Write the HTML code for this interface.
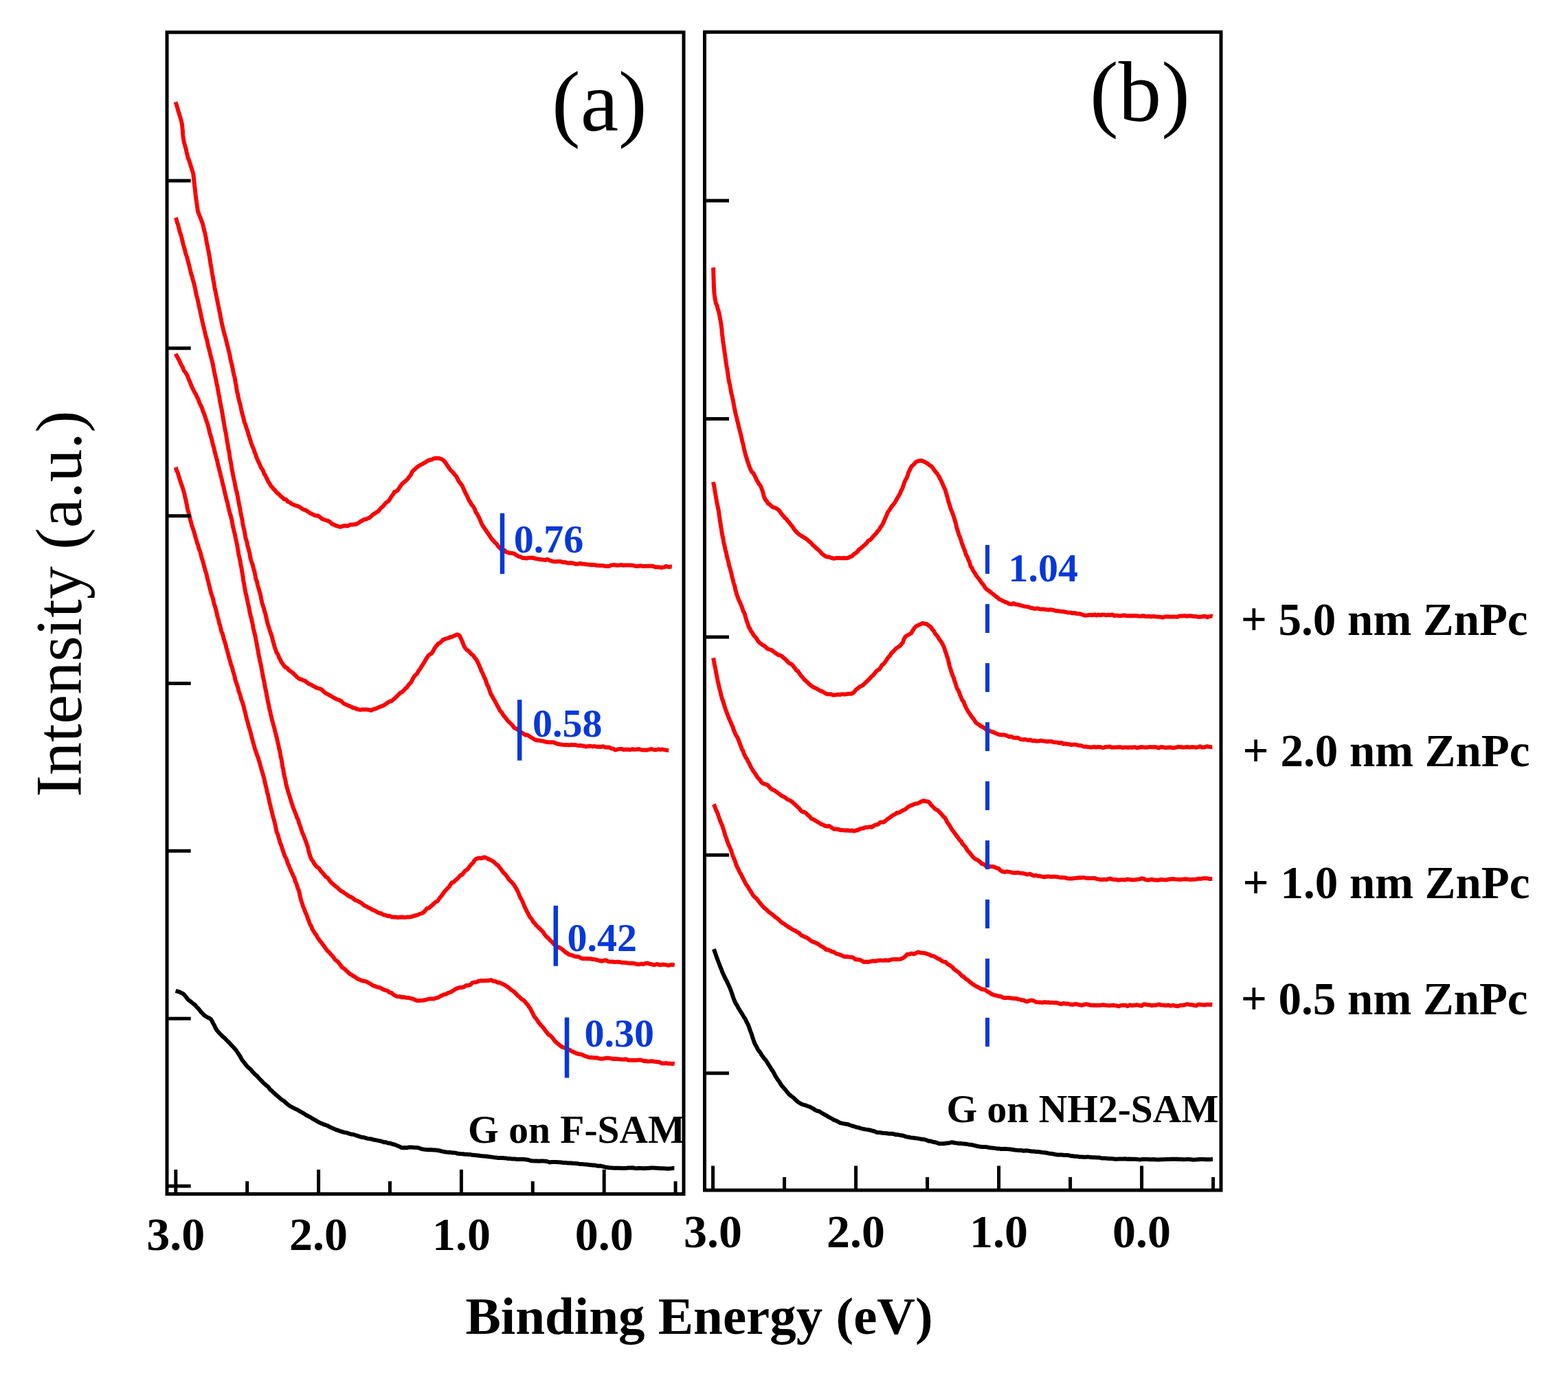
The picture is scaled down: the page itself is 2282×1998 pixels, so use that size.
<!DOCTYPE html>
<html><head><meta charset="utf-8"><title>UPS spectra</title><style>html,body{margin:0;padding:0;background:#fff;overflow:hidden}svg{display:block;filter:blur(0.55px)}</style></head><body>
<svg width="2282" height="1998" viewBox="0 0 2282 1998">
<rect width="2282" height="1998" fill="#fff"/>
<defs><clipPath id="ca"><rect x="246" y="50" width="747" height="1685"/></clipPath><clipPath id="cb"><rect x="1028" y="49" width="746" height="1681"/></clipPath></defs>
<g fill="none" stroke-linejoin="round" stroke-linecap="butt">
<path d="M255.6,148.4 L256.1,150.1 L256.9,152.6 L257.8,155.5 L258.8,158.8 L259.7,162.8 L260.6,164.8 L261.6,168.4 L262.6,171.7 L263.5,174.7 L264.4,178.4 L265.1,182.2 L265.5,186.8 L265.8,189.5 L266.0,192.3 L266.2,195.9 L266.4,198.1 L266.8,200.9 L267.4,204.9 L268.1,207.7 L268.8,210.4 L269.7,213.7 L270.7,216.9 L271.5,221.2 L272.5,225.1 L273.5,229.7 L274.6,232.0 L275.6,234.8 L276.6,237.7 L277.4,240.7 L278.6,244.4 L279.6,247.8 L280.5,250.3 L281.3,253.0 L281.8,257.3 L282.1,259.9 L282.5,264.0 L282.8,266.9 L283.1,270.5 L283.5,273.0 L283.9,276.0 L284.3,280.1 L284.7,284.0 L285.1,287.2 L285.5,290.6 L285.9,292.5 L286.3,295.8 L286.8,299.7 L287.3,302.7 L287.8,306.4 L288.5,309.2 L289.5,311.7 L290.6,314.5 L291.8,317.3 L293.0,320.4 L293.9,322.9 L294.7,324.8 L295.5,327.9 L296.4,331.9 L297.5,336.5 L298.0,337.9 L298.5,339.8 L299.0,342.8 L299.6,345.4 L300.2,349.3 L300.7,352.2 L301.3,355.4 L302.0,358.1 L302.6,361.6 L303.2,364.3 L303.8,367.1 L304.4,371.2 L305.0,374.1 L305.5,377.0 L306.0,380.8 L306.5,384.6 L307.0,387.0 L307.5,389.4 L308.0,392.8 L308.5,396.2 L309.0,399.1 L309.5,401.2 L310.0,404.0 L310.5,407.9 L311.1,410.1 L311.6,413.5 L312.2,417.5 L312.8,420.9 L313.3,422.9 L313.9,425.7 L314.5,428.7 L315.1,431.2 L315.7,434.8 L316.4,437.7 L317.0,441.6 L317.6,444.1 L318.3,447.2 L318.9,450.4 L319.5,453.8 L320.1,455.5 L320.7,459.8 L321.3,462.5 L321.9,465.4 L322.4,468.6 L322.9,470.6 L323.8,474.8 L324.6,478.0 L325.3,481.0 L325.9,483.5 L326.6,486.2 L327.3,488.3 L328.1,490.8 L329.1,495.3 L329.6,497.0 L330.2,499.8 L330.8,502.5 L331.5,504.2 L332.2,507.7 L332.9,510.6 L333.6,513.5 L334.3,516.3 L335.0,520.6 L335.8,524.5 L336.5,527.1 L337.2,529.9 L337.9,533.0 L338.6,536.0 L339.2,539.8 L339.8,542.1 L340.4,545.7 L341.2,547.7 L341.9,550.7 L342.5,555.4 L343.1,558.5 L343.7,560.6 L344.3,565.7 L344.9,568.8 L345.4,571.6 L346.0,572.8 L346.6,576.9 L347.3,580.0 L348.0,583.0 L348.7,585.7 L349.4,587.7 L350.1,590.5 L350.8,594.3 L351.6,598.0 L352.3,601.1 L353.1,603.9 L353.9,606.7 L354.7,609.7 L355.5,613.7 L356.3,615.8 L357.1,617.4 L358.0,620.8 L358.9,623.5 L359.8,626.0 L360.7,628.6 L361.7,632.6 L362.7,635.3 L363.6,638.4 L364.6,641.1 L365.6,645.0 L366.6,647.5 L367.6,650.1 L368.6,652.1 L369.6,654.6 L370.6,658.4 L371.9,661.0 L373.1,665.0 L374.4,668.1 L375.6,670.9 L376.9,673.5 L378.1,676.0 L379.3,679.2 L380.6,681.5 L381.8,683.0 L383.1,685.6 L384.6,689.9 L386.1,691.8 L387.6,694.9 L389.1,697.9 L390.6,701.4 L392.2,703.3 L393.9,706.8 L395.7,708.4 L397.6,711.1 L399.7,712.9 L401.8,715.7 L404.0,717.8 L406.2,719.3 L408.5,722.2 L410.9,723.7 L413.2,726.3 L416.0,726.7 L418.9,730.0 L421.9,731.2 L424.9,733.6 L427.8,734.8 L430.7,735.6 L433.3,736.5 L436.5,738.0 L439.3,740.2 L442.1,741.7 L445.0,742.5 L448.4,744.6 L450.9,746.5 L453.6,747.7 L456.4,749.1 L459.4,750.6 L462.4,750.3 L465.4,752.3 L468.2,754.7 L471.0,756.0 L474.1,757.0 L477.1,757.9 L480.2,759.5 L483.1,762.5 L486.0,763.3 L488.6,764.8 L491.1,765.5 L494.7,766.8 L497.7,766.1 L500.5,765.1 L503.6,765.2 L506.5,765.4 L509.6,763.5 L512.8,763.5 L515.9,763.3 L518.7,762.5 L521.7,761.2 L524.4,759.0 L527.1,757.6 L530.0,755.9 L532.6,755.6 L535.3,754.4 L538.2,753.1 L541.0,750.3 L543.8,748.0 L546.0,746.9 L548.2,745.3 L550.4,744.1 L552.7,741.3 L555.0,738.6 L557.6,736.7 L559.5,734.1 L561.5,731.8 L563.5,730.5 L565.7,728.8 L567.8,725.5 L570.0,722.0 L572.0,719.6 L574.0,715.9 L575.9,715.3 L578.1,714.0 L580.2,711.5 L582.1,708.4 L584.0,705.7 L585.9,703.6 L587.8,701.9 L589.7,700.3 L591.7,698.4 L593.6,696.6 L595.6,693.7 L597.6,691.5 L599.6,687.0 L601.5,684.5 L603.5,683.2 L606.3,680.4 L609.0,678.4 L611.8,676.7 L614.5,675.4 L617.3,673.7 L620.1,672.1 L622.9,670.3 L625.7,669.3 L628.4,668.8 L631.0,667.3 L635.0,666.8 L638.7,666.9 L642.5,668.1 L644.8,669.3 L647.0,671.6 L649.2,674.5 L651.6,678.2 L654.0,681.7 L655.9,684.3 L657.8,686.3 L659.8,688.0 L661.8,691.0 L663.8,692.6 L665.8,696.6 L667.8,700.8 L669.3,702.2 L670.8,704.5 L672.4,706.2 L673.9,709.7 L675.4,712.8 L676.9,716.2 L678.5,719.5 L680.0,722.2 L681.5,725.8 L683.0,728.8 L684.6,731.0 L686.2,734.1 L687.8,736.0 L689.3,738.0 L690.9,740.7 L692.4,745.2 L693.9,747.2 L695.3,749.4 L696.8,752.6 L698.3,755.7 L699.7,759.2 L701.1,762.5 L702.4,764.7 L703.8,766.9 L705.3,769.0 L706.8,771.2 L708.7,773.9 L710.6,776.7 L712.7,779.8 L714.7,783.0 L716.8,785.6 L718.7,787.5 L720.6,789.9 L722.9,791.5 L724.8,794.8 L726.8,796.7 L729.1,799.2 L732.1,800.5 L734.4,800.7 L736.9,803.4 L739.6,804.2 L742.5,804.8 L745.6,805.1 L748.7,805.8 L751.8,808.2 L755.0,809.9 L757.8,810.3 L760.5,812.0 L763.2,812.0 L765.9,812.5 L768.8,811.8 L771.9,811.7 L775.1,811.6 L778.7,812.8 L782.6,813.4 L785.1,813.7 L787.8,814.3 L790.6,814.6 L793.5,815.1 L796.5,813.7 L799.6,815.3 L802.8,816.3 L806.0,817.2 L809.3,817.3 L812.5,817.1 L815.8,816.9 L819.0,818.3 L822.2,818.1 L825.4,819.2 L828.5,819.5 L831.6,819.1 L834.6,819.7 L837.7,820.8 L840.7,820.8 L843.8,819.8 L846.9,820.5 L849.9,820.7 L853.0,821.2 L856.0,821.4 L859.1,822.0 L862.2,821.7 L865.2,822.0 L868.3,822.8 L871.3,823.0 L874.4,823.0 L877.4,823.1 L880.4,823.7 L883.4,824.0 L886.4,823.9 L889.3,822.5 L892.2,822.1 L895.2,822.3 L898.2,822.8 L901.2,822.5 L904.2,822.0 L907.3,822.7 L910.5,822.6 L913.7,822.5 L917.0,822.6 L920.4,822.6 L923.2,823.3 L926.2,824.1 L929.4,823.8 L932.7,823.3 L936.2,824.1 L939.6,823.7 L943.2,823.8 L946.7,823.8 L950.2,823.7 L953.7,825.2 L957.1,825.2 L960.4,825.6 L963.5,825.9 L966.5,825.4 L969.3,823.8 L971.8,824.7 L974.1,825.0 L976.1,824.6 L977.8,824.8" stroke="#f70505" stroke-width="6"/>
<path d="M255.9,316.6 L256.4,318.1 L256.9,320.2 L257.6,322.9 L258.3,324.9 L259.1,326.9 L259.9,330.2 L260.8,333.8 L261.7,337.7 L262.6,339.9 L263.6,342.8 L264.6,347.1 L265.6,350.9 L266.5,355.2 L267.5,358.7 L268.4,361.5 L269.3,364.4 L270.0,368.6 L270.8,370.5 L271.6,372.5 L272.4,374.8 L273.1,378.2 L273.9,381.4 L274.7,384.2 L275.5,387.3 L276.3,390.6 L277.1,394.0 L277.9,397.4 L278.7,400.1 L279.5,401.8 L280.3,405.6 L281.0,407.7 L281.8,410.9 L282.5,413.2 L283.2,416.6 L283.9,419.2 L284.6,422.8 L285.4,427.9 L286.0,429.9 L286.7,432.9 L287.3,434.5 L288.0,437.3 L288.6,440.7 L289.2,443.3 L289.8,446.3 L290.4,449.1 L291.1,451.3 L291.7,454.8 L292.3,457.2 L293.0,461.6 L293.7,463.9 L294.4,467.4 L295.2,470.4 L295.8,473.6 L296.5,475.7 L297.2,479.2 L297.9,481.8 L298.6,485.4 L299.4,488.4 L300.1,491.2 L300.9,493.5 L301.7,497.2 L302.4,500.5 L303.2,504.4 L304.0,506.7 L304.7,510.0 L305.5,513.1 L306.2,516.1 L307.0,519.0 L307.7,521.9 L308.4,524.4 L309.0,526.7 L309.7,529.7 L310.3,533.1 L311.0,537.2 L311.7,540.5 L312.4,543.8 L313.0,546.7 L313.7,549.6 L314.3,552.2 L314.8,555.3 L315.4,558.9 L316.0,560.8 L316.5,563.0 L317.1,567.1 L317.6,569.5 L318.1,572.6 L318.7,575.5 L319.2,577.2 L319.8,581.6 L320.3,584.9 L320.9,587.3 L321.5,590.4 L322.0,593.2 L322.6,595.5 L323.1,598.7 L323.7,602.2 L324.2,605.9 L324.8,609.1 L325.3,611.9 L325.9,615.6 L326.4,617.8 L326.9,621.4 L327.5,624.9 L328.0,627.4 L328.6,629.3 L329.1,632.4 L329.6,636.2 L330.2,639.8 L330.7,643.8 L331.3,645.8 L331.8,649.0 L332.3,652.6 L332.9,655.4 L333.4,657.1 L334.0,661.4 L334.5,666.1 L335.1,669.2 L335.6,671.1 L336.2,674.0 L336.7,677.4 L337.3,682.0 L337.9,684.7 L338.5,687.2 L339.0,690.8 L339.6,693.0 L340.2,696.8 L340.8,698.7 L341.4,701.2 L342.0,704.6 L342.6,708.3 L343.2,711.1 L343.8,713.8 L344.4,715.3 L345.0,718.2 L345.6,721.2 L346.2,724.2 L346.8,727.9 L347.4,730.6 L348.0,734.2 L348.6,737.0 L349.2,739.6 L349.7,742.7 L350.3,745.9 L350.9,749.2 L351.4,751.6 L352.0,754.3 L352.6,756.5 L353.1,760.9 L353.7,764.5 L354.3,766.7 L354.9,769.2 L355.5,771.4 L356.1,774.9 L356.7,778.1 L357.3,782.3 L358.0,784.8 L358.7,786.9 L359.4,788.6 L360.1,793.3 L360.9,796.5 L361.7,798.7 L362.5,802.4 L363.3,804.8 L364.1,810.6 L364.9,813.7 L365.7,816.4 L366.5,818.8 L367.2,820.2 L368.0,823.5 L368.7,825.7 L369.4,829.2 L370.0,830.6 L370.6,833.0 L371.7,838.6 L372.5,842.9 L373.3,844.5 L373.9,846.1 L374.6,849.7 L375.3,853.0 L376.2,855.5 L377.3,859.4 L377.9,861.6 L378.6,863.8 L379.3,866.6 L380.0,870.6 L380.7,873.8 L381.5,877.8 L382.3,880.1 L383.2,882.9 L384.0,885.3 L384.8,888.7 L385.7,891.3 L386.5,893.9 L387.4,898.2 L388.2,902.3 L389.0,905.4 L389.8,908.7 L390.6,911.0 L391.5,913.4 L392.4,916.7 L393.3,919.6 L394.3,922.2 L395.2,924.7 L396.1,927.6 L396.9,931.4 L397.8,934.8 L398.7,937.5 L399.6,941.3 L400.5,943.7 L401.4,946.4 L402.3,949.2 L403.2,950.4 L404.9,953.2 L406.4,957.5 L407.9,959.9 L409.5,963.5 L411.2,965.8 L413.2,968.6 L415.7,971.4 L417.7,971.7 L419.9,974.7 L422.3,976.4 L424.9,978.3 L427.5,980.4 L430.2,983.3 L432.9,985.7 L435.7,988.0 L438.3,988.4 L440.9,990.0 L443.7,990.6 L446.5,992.9 L449.3,995.1 L452.1,996.0 L454.8,997.7 L457.6,999.1 L460.4,1000.9 L463.2,1001.5 L466.0,1002.5 L468.8,1003.9 L471.6,1007.0 L474.4,1009.0 L477.2,1010.2 L479.9,1011.9 L482.7,1013.5 L485.5,1015.2 L488.3,1016.6 L491.1,1018.0 L494.0,1018.9 L496.9,1020.5 L499.9,1023.5 L502.9,1025.1 L505.8,1026.3 L508.7,1027.4 L511.4,1028.7 L513.9,1030.0 L516.2,1030.4 L520.4,1032.1 L523.8,1032.9 L526.8,1032.6 L530.0,1032.5 L533.4,1032.6 L536.8,1032.8 L540.2,1033.8 L543.8,1031.8 L546.3,1031.5 L548.9,1030.4 L551.6,1029.1 L554.3,1028.0 L557.1,1027.2 L559.9,1025.4 L562.4,1023.8 L565.0,1022.0 L567.6,1020.6 L570.2,1019.8 L572.9,1017.6 L575.6,1015.1 L578.2,1012.6 L580.5,1010.4 L582.8,1008.0 L585.2,1007.0 L587.5,1004.8 L589.9,1002.0 L592.2,1000.3 L594.4,996.8 L596.6,994.6 L598.5,992.4 L600.3,988.7 L602.1,985.5 L603.9,983.0 L605.7,981.5 L607.4,979.7 L609.2,976.0 L610.9,974.2 L612.7,971.2 L614.5,968.4 L616.3,965.5 L618.0,962.9 L619.8,959.4 L621.6,956.8 L623.4,954.1 L625.1,952.5 L626.9,951.6 L628.7,950.4 L631.0,946.2 L633.4,941.9 L635.7,939.2 L638.1,936.3 L640.4,935.5 L642.6,933.4 L644.8,930.9 L648.5,929.6 L652.1,928.7 L655.5,927.0 L658.6,926.4 L662.0,924.8 L664.9,923.3 L667.8,924.1 L669.3,925.7 L670.6,928.7 L672.0,931.7 L673.4,935.0 L675.1,939.8 L677.0,943.0 L679.0,945.5 L681.2,946.6 L683.6,949.1 L686.1,952.1 L688.6,953.6 L690.9,957.2 L693.0,959.6 L694.5,962.3 L695.8,964.7 L697.1,967.4 L698.3,970.8 L699.5,973.0 L700.7,976.8 L701.9,978.8 L703.1,981.3 L704.5,985.2 L705.7,987.1 L706.9,990.0 L708.1,993.8 L709.3,997.4 L710.6,999.0 L711.9,1002.7 L713.2,1006.9 L714.5,1010.1 L715.8,1012.2 L717.0,1014.4 L718.3,1016.9 L720.0,1019.7 L721.8,1023.1 L723.6,1026.4 L725.4,1029.5 L727.1,1033.1 L728.8,1035.4 L730.5,1036.9 L732.1,1040.3 L734.5,1043.0 L736.7,1045.9 L738.9,1048.7 L741.1,1051.0 L743.5,1053.0 L745.9,1055.5 L748.3,1059.1 L750.8,1060.2 L753.8,1062.0 L757.3,1064.9 L759.5,1066.3 L761.8,1067.8 L764.1,1069.4 L766.6,1069.3 L769.3,1070.6 L772.2,1072.6 L775.4,1074.5 L778.8,1076.5 L782.6,1077.5 L785.1,1077.6 L787.7,1078.2 L790.5,1078.5 L793.4,1079.3 L796.4,1080.1 L799.5,1080.2 L802.7,1080.1 L805.9,1080.3 L809.2,1081.7 L812.4,1082.8 L815.7,1083.3 L819.0,1083.7 L822.2,1084.0 L825.4,1083.9 L828.5,1084.4 L831.6,1083.7 L834.6,1084.1 L837.7,1084.0 L840.7,1085.0 L843.8,1084.8 L846.9,1085.1 L849.9,1085.7 L853.0,1086.6 L856.0,1085.9 L859.1,1085.5 L862.2,1086.5 L865.2,1085.9 L868.3,1086.7 L871.3,1086.5 L874.4,1086.9 L877.4,1086.1 L880.5,1087.4 L883.5,1087.4 L886.5,1087.4 L889.5,1089.2 L892.5,1089.5 L895.5,1091.4 L898.5,1090.6 L901.5,1089.9 L904.6,1089.9 L907.6,1091.0 L910.8,1090.6 L913.9,1090.8 L917.1,1091.0 L920.4,1090.3 L923.4,1090.7 L926.6,1090.5 L930.0,1090.0 L933.5,1091.1 L937.0,1091.6 L940.7,1091.5 L944.3,1090.9 L947.9,1089.9 L951.4,1091.0 L954.9,1091.2 L958.2,1090.3 L961.3,1090.9 L964.3,1090.4 L967.0,1091.1 L969.4,1091.5 L971.5,1091.7 L973.2,1091.7" stroke="#f70505" stroke-width="6"/>
<path d="M255.6,514.9 L256.5,516.5 L257.8,519.0 L259.3,521.8 L261.0,524.7 L262.7,528.9 L264.5,532.1 L266.1,535.0 L267.6,539.1 L269.1,541.0 L270.3,542.6 L271.5,544.4 L272.8,547.0 L274.1,550.6 L275.8,554.4 L277.7,559.0 L278.7,561.8 L279.8,564.3 L280.9,566.2 L282.1,568.9 L283.4,571.2 L284.7,573.0 L286.0,576.2 L287.4,578.9 L288.8,581.6 L290.1,585.8 L291.5,588.7 L292.8,591.0 L294.1,594.0 L295.4,598.5 L296.6,600.8 L297.7,604.1 L298.6,606.8 L299.5,609.5 L300.4,612.3 L301.2,614.5 L302.1,617.1 L302.9,620.0 L303.7,622.9 L304.5,626.5 L305.3,630.3 L306.1,632.2 L306.9,635.5 L307.6,637.7 L308.4,640.5 L309.1,643.7 L309.9,646.9 L310.6,649.7 L311.3,651.2 L312.1,655.7 L312.8,658.4 L313.6,661.2 L314.4,664.8 L315.1,667.3 L315.9,669.4 L316.6,673.1 L317.3,676.3 L318.0,678.5 L318.8,682.1 L319.5,685.0 L320.2,686.9 L320.9,691.1 L321.6,693.8 L322.3,695.8 L323.1,699.3 L323.8,702.4 L324.6,706.1 L325.4,708.3 L326.1,711.9 L326.8,715.1 L327.5,718.0 L328.2,720.9 L328.9,724.3 L329.7,727.2 L330.4,729.8 L331.2,732.1 L331.9,736.0 L332.7,739.5 L333.4,742.4 L334.2,745.3 L334.9,748.6 L335.7,749.9 L336.4,753.8 L337.1,755.5 L337.8,759.5 L338.5,763.4 L339.2,767.3 L339.8,769.2 L340.4,772.0 L341.1,775.0 L341.8,776.8 L342.5,781.1 L343.2,784.3 L343.8,787.5 L344.5,790.0 L345.1,793.3 L345.7,796.5 L346.2,800.3 L346.8,803.0 L347.4,807.7 L347.9,809.1 L348.4,811.2 L349.0,813.8 L349.5,816.0 L350.0,819.8 L350.5,822.5 L351.1,824.7 L351.7,828.2 L352.2,831.9 L352.7,833.7 L353.1,836.9 L353.6,839.6 L354.0,844.0 L354.5,846.4 L355.0,848.7 L355.5,851.3 L356.1,855.9 L356.8,858.5 L357.5,863.6 L358.0,864.4 L358.6,867.1 L359.2,869.9 L359.8,872.5 L360.4,875.7 L361.1,879.3 L361.8,881.9 L362.4,884.4 L363.2,888.9 L363.9,892.9 L364.6,895.2 L365.3,898.6 L366.0,900.1 L366.7,904.7 L367.4,907.1 L368.1,910.3 L368.7,915.0 L369.4,916.8 L370.0,919.9 L370.6,922.1 L371.3,924.6 L371.9,927.7 L372.5,931.6 L373.1,934.1 L373.7,937.1 L374.3,940.8 L374.8,943.6 L375.4,945.6 L375.9,949.7 L376.5,952.3 L377.0,955.9 L377.6,957.6 L378.1,961.6 L378.7,963.2 L379.3,965.4 L379.9,968.9 L380.6,972.4 L381.1,975.6 L381.7,978.2 L382.3,981.6 L382.8,985.3 L383.4,987.4 L384.0,989.6 L384.6,992.8 L385.2,996.8 L385.8,1000.3 L386.4,1002.9 L387.1,1005.4 L387.7,1008.8 L388.3,1012.7 L388.9,1015.1 L389.5,1019.1 L390.2,1021.9 L390.8,1024.8 L391.4,1027.2 L392.0,1031.0 L392.6,1033.4 L393.2,1035.0 L393.9,1039.2 L394.7,1042.0 L395.4,1045.8 L396.1,1048.6 L396.9,1050.9 L397.6,1053.9 L398.3,1056.4 L399.1,1058.9 L399.8,1062.0 L400.6,1065.4 L401.3,1068.1 L402.0,1070.8 L402.8,1073.3 L403.5,1076.8 L404.2,1079.9 L405.0,1083.5 L405.7,1086.6 L406.3,1090.4 L406.9,1091.4 L407.5,1094.4 L408.0,1097.7 L408.6,1101.1 L409.1,1102.8 L409.7,1105.5 L410.3,1109.0 L410.8,1113.1 L411.4,1116.7 L412.0,1118.5 L412.6,1121.9 L413.1,1125.8 L413.7,1128.6 L414.3,1130.9 L415.0,1133.8 L415.6,1136.3 L416.2,1140.5 L416.9,1143.1 L417.6,1145.7 L418.3,1148.1 L419.2,1151.6 L420.2,1154.6 L421.2,1157.6 L422.2,1161.3 L423.3,1164.6 L424.4,1168.2 L425.5,1171.4 L426.6,1175.1 L427.7,1177.7 L428.8,1180.6 L429.9,1183.5 L431.0,1185.6 L432.0,1189.3 L433.0,1191.3 L434.0,1193.0 L434.9,1196.8 L435.8,1199.5 L437.1,1202.4 L438.2,1206.4 L439.4,1209.9 L440.4,1212.8 L441.4,1214.5 L442.4,1217.5 L443.3,1219.5 L444.2,1221.9 L445.1,1224.4 L446.0,1226.7 L446.9,1229.9 L448.0,1232.7 L448.7,1236.3 L449.3,1239.0 L450.0,1241.2 L450.8,1244.1 L451.9,1247.3 L453.5,1250.9 L455.7,1253.7 L457.2,1256.7 L458.8,1258.6 L460.7,1261.2 L462.7,1262.2 L464.8,1264.1 L467.0,1267.7 L469.3,1270.0 L471.7,1272.8 L474.1,1275.9 L476.5,1277.1 L478.9,1280.1 L481.3,1283.6 L483.6,1285.7 L485.8,1287.3 L487.9,1289.3 L490.7,1291.4 L493.4,1293.9 L496.1,1296.5 L498.8,1297.7 L501.4,1299.7 L504.0,1301.3 L506.7,1303.2 L509.3,1305.0 L511.9,1305.6 L514.5,1308.0 L517.2,1310.0 L519.8,1310.6 L522.4,1312.3 L525.0,1313.4 L527.6,1315.4 L530.2,1317.7 L532.8,1318.7 L535.4,1320.3 L538.1,1321.7 L540.8,1323.2 L543.6,1324.6 L546.5,1325.6 L549.2,1327.6 L552.1,1328.7 L555.0,1329.3 L558.0,1331.2 L561.0,1331.6 L564.1,1333.1 L567.2,1332.8 L570.2,1334.6 L573.2,1334.6 L576.1,1334.5 L579.0,1335.3 L581.7,1334.7 L585.2,1334.5 L588.7,1335.1 L592.1,1334.6 L595.4,1334.6 L598.7,1334.0 L601.9,1333.2 L605.0,1332.2 L608.0,1331.4 L611.0,1329.9 L613.9,1329.1 L616.6,1327.7 L619.3,1324.3 L621.8,1321.7 L624.4,1321.4 L626.9,1318.9 L629.4,1316.9 L631.9,1314.5 L634.5,1312.3 L636.6,1311.5 L638.8,1308.1 L640.9,1305.6 L643.0,1303.1 L645.1,1299.9 L647.3,1297.1 L649.4,1294.8 L651.5,1292.6 L653.6,1290.5 L655.8,1286.9 L657.9,1284.2 L660.3,1283.6 L662.8,1280.9 L665.3,1279.0 L667.9,1276.2 L670.4,1273.5 L672.8,1272.8 L675.2,1269.3 L677.5,1266.9 L679.5,1265.7 L681.4,1263.8 L684.5,1259.4 L686.9,1256.9 L689.0,1254.9 L690.9,1251.5 L693.1,1249.8 L696.8,1248.6 L700.5,1248.9 L704.8,1247.4 L707.4,1248.3 L710.3,1249.9 L713.4,1251.1 L716.5,1252.8 L719.6,1255.0 L722.4,1257.8 L724.6,1259.1 L726.8,1262.0 L728.9,1264.7 L730.9,1267.3 L732.9,1270.2 L734.9,1271.8 L737.0,1274.2 L738.8,1276.9 L740.5,1279.5 L742.3,1281.6 L744.0,1283.0 L745.8,1285.0 L747.6,1287.0 L749.6,1290.3 L751.7,1293.7 L752.9,1296.0 L754.1,1298.5 L755.4,1301.9 L756.8,1305.1 L758.1,1307.6 L759.5,1309.8 L760.9,1313.0 L762.3,1316.5 L763.7,1320.0 L765.2,1322.8 L766.6,1326.0 L768.0,1328.1 L769.4,1331.2 L770.8,1333.9 L772.2,1335.6 L774.3,1338.2 L776.3,1342.0 L778.4,1343.7 L780.5,1346.7 L782.6,1348.7 L784.7,1350.7 L786.8,1352.7 L788.8,1354.6 L790.8,1356.8 L792.7,1360.0 L795.0,1362.9 L797.2,1364.5 L799.4,1366.8 L801.5,1369.3 L803.6,1370.7 L805.8,1373.8 L808.0,1375.2 L810.3,1377.2 L812.7,1378.2 L815.2,1379.5 L817.6,1381.1 L820.2,1383.0 L822.8,1385.7 L825.4,1387.0 L828.1,1389.0 L830.8,1389.7 L833.5,1390.3 L836.0,1391.6 L838.5,1392.2 L841.1,1392.1 L843.9,1393.3 L846.9,1394.9 L850.4,1395.1 L854.3,1395.0 L856.8,1395.2 L859.5,1395.2 L862.4,1396.0 L865.4,1396.1 L868.5,1396.9 L871.7,1397.6 L875.0,1398.7 L878.3,1398.0 L881.7,1397.2 L885.1,1399.2 L888.4,1399.6 L891.7,1399.5 L895.0,1400.1 L898.2,1399.6 L901.4,1399.9 L904.5,1400.7 L907.7,1400.7 L910.9,1401.1 L914.1,1401.5 L917.3,1401.7 L920.5,1401.6 L923.6,1402.2 L926.8,1403.0 L929.9,1403.5 L933.1,1402.5 L936.1,1403.1 L939.2,1401.9 L942.2,1401.6 L945.5,1402.7 L948.9,1403.4 L952.4,1404.3 L956.0,1403.0 L959.6,1404.0 L963.0,1403.7 L966.4,1403.6 L969.7,1404.1 L972.7,1405.0 L975.5,1404.1 L977.9,1403.7 L980.1,1404.1 L981.8,1404.4" stroke="#f70505" stroke-width="6"/>
<path d="M255.6,679.9 L256.2,681.6 L256.9,684.2 L257.8,686.3 L258.8,688.0 L259.8,691.8 L261.0,695.7 L262.1,699.2 L263.3,702.9 L264.5,706.1 L265.6,709.3 L266.6,712.4 L267.6,716.0 L268.4,718.8 L269.1,722.4 L269.8,725.4 L270.4,727.2 L271.0,730.7 L271.7,733.5 L272.3,737.1 L273.0,740.6 L273.6,743.4 L274.3,745.0 L275.1,748.9 L275.9,751.2 L276.8,756.0 L277.7,758.9 L278.4,761.4 L279.2,765.3 L280.0,766.4 L280.8,769.5 L281.7,771.9 L282.6,774.9 L283.5,777.8 L284.4,781.6 L285.4,784.5 L286.3,787.8 L287.3,791.2 L288.2,793.0 L289.2,797.3 L290.1,799.9 L291.0,801.9 L291.9,804.9 L292.8,808.7 L293.6,812.1 L294.4,814.1 L295.2,816.9 L296.2,820.4 L297.1,824.3 L298.0,827.1 L298.8,830.7 L299.7,832.9 L300.5,835.6 L301.3,839.3 L302.0,842.7 L302.8,845.3 L303.6,848.5 L304.3,851.4 L305.1,854.7 L305.9,858.0 L306.7,860.9 L307.5,864.1 L308.3,866.2 L309.0,868.6 L309.8,870.1 L310.5,873.8 L311.2,876.8 L311.9,880.0 L312.7,881.4 L313.4,884.4 L314.2,887.3 L314.9,889.4 L315.7,893.7 L316.6,897.5 L317.4,899.6 L318.3,903.4 L319.3,907.8 L320.3,910.1 L321.0,913.4 L321.7,916.7 L322.5,920.0 L323.3,921.1 L324.1,923.3 L325.0,926.8 L325.9,930.6 L326.7,932.6 L327.6,935.5 L328.5,938.4 L329.4,942.7 L330.4,945.5 L331.3,949.2 L332.2,952.6 L333.1,956.2 L334.0,959.1 L334.9,962.0 L335.7,965.5 L336.6,968.2 L337.4,969.9 L338.2,972.5 L339.0,976.0 L339.7,978.5 L340.4,980.5 L341.5,984.6 L342.6,990.2 L343.6,992.4 L344.5,995.3 L345.4,998.1 L346.2,1000.4 L347.0,1003.8 L347.8,1006.6 L348.6,1009.0 L349.4,1010.6 L350.3,1014.4 L351.1,1017.6 L352.0,1020.3 L353.0,1021.8 L353.7,1025.2 L354.5,1027.5 L355.2,1030.7 L356.0,1033.6 L356.8,1036.3 L357.6,1040.2 L358.3,1043.1 L359.1,1046.8 L359.9,1048.8 L360.7,1051.8 L361.6,1055.7 L362.4,1058.6 L363.2,1060.9 L364.0,1063.4 L364.8,1066.3 L365.6,1069.6 L366.4,1073.1 L367.2,1075.9 L368.0,1079.1 L368.9,1082.4 L369.8,1085.1 L370.7,1088.6 L371.5,1091.4 L372.4,1093.7 L373.3,1096.2 L374.2,1099.0 L375.1,1101.3 L376.0,1103.5 L376.9,1106.9 L377.8,1109.7 L378.7,1113.3 L379.5,1115.8 L380.4,1119.1 L381.3,1122.4 L382.2,1125.2 L383.1,1128.7 L383.8,1131.0 L384.6,1133.8 L385.3,1137.5 L386.0,1140.6 L386.8,1143.5 L387.5,1146.1 L388.3,1149.9 L389.1,1154.2 L389.8,1155.4 L390.6,1159.6 L391.3,1162.8 L392.0,1166.5 L392.8,1169.9 L393.5,1171.9 L394.2,1176.0 L394.9,1178.1 L395.6,1180.8 L396.3,1184.1 L396.9,1186.6 L397.6,1189.3 L398.2,1191.3 L399.1,1194.5 L400.0,1198.2 L400.7,1200.8 L401.4,1204.9 L402.0,1207.6 L402.7,1210.9 L403.3,1212.1 L404.0,1213.5 L404.7,1215.5 L405.6,1219.1 L406.5,1221.9 L407.6,1226.1 L408.8,1229.0 L409.7,1231.1 L410.6,1234.5 L411.6,1237.2 L412.7,1240.6 L413.8,1243.9 L415.0,1246.8 L416.2,1248.8 L417.4,1251.5 L418.7,1256.4 L420.0,1258.8 L421.3,1261.9 L422.5,1264.9 L423.8,1267.8 L425.0,1270.6 L426.2,1273.2 L427.4,1275.9 L428.5,1277.6 L429.5,1282.0 L430.5,1284.3 L431.4,1285.8 L432.2,1288.7 L433.6,1293.2 L434.8,1295.6 L435.6,1298.6 L436.3,1302.6 L437.0,1305.1 L437.5,1307.4 L438.2,1310.2 L438.9,1312.3 L439.8,1314.8 L441.0,1319.0 L442.0,1321.0 L443.0,1323.6 L444.1,1326.8 L445.3,1329.6 L446.5,1331.8 L447.8,1336.4 L449.1,1339.1 L450.4,1343.2 L451.7,1346.0 L453.1,1348.0 L454.5,1352.0 L455.9,1354.3 L457.2,1356.3 L458.6,1358.9 L460.4,1360.7 L462.2,1364.5 L464.1,1366.9 L466.1,1369.7 L468.0,1371.8 L470.0,1374.9 L472.0,1377.4 L473.8,1380.1 L475.7,1382.8 L477.4,1384.3 L479.1,1385.9 L481.5,1388.8 L483.6,1390.8 L485.5,1393.1 L487.4,1396.2 L489.3,1397.8 L491.4,1399.2 L493.8,1402.1 L495.8,1404.7 L497.9,1407.8 L500.0,1409.0 L502.2,1410.6 L504.5,1413.0 L506.8,1415.0 L509.2,1417.2 L511.7,1418.6 L514.3,1420.6 L517.0,1421.8 L519.8,1424.1 L522.8,1425.4 L525.8,1426.8 L528.8,1427.5 L531.9,1427.9 L534.9,1429.5 L537.9,1430.9 L540.7,1432.9 L543.8,1434.6 L546.9,1435.5 L549.9,1436.6 L553.0,1437.2 L555.9,1438.8 L558.7,1440.3 L561.5,1441.2 L564.1,1441.8 L567.2,1444.4 L570.0,1445.0 L572.5,1447.4 L575.2,1448.8 L578.2,1450.3 L581.7,1450.2 L584.5,1451.2 L587.5,1450.9 L590.8,1451.8 L594.2,1451.9 L597.7,1452.8 L601.2,1453.7 L604.7,1455.3 L607.9,1456.3 L611.0,1456.0 L614.7,1455.8 L618.1,1455.2 L621.5,1454.5 L624.7,1453.5 L628.0,1453.5 L631.2,1453.6 L634.5,1452.3 L637.4,1451.8 L640.4,1450.0 L643.3,1448.5 L646.2,1447.3 L649.1,1446.8 L652.0,1445.0 L655.0,1444.2 L657.9,1442.6 L660.8,1440.7 L663.8,1438.7 L666.7,1438.0 L669.6,1436.9 L672.6,1436.9 L675.5,1436.1 L678.5,1433.9 L681.4,1433.9 L684.4,1433.2 L687.4,1430.2 L690.4,1429.4 L693.4,1429.3 L696.3,1427.7 L699.3,1427.1 L702.1,1427.3 L704.8,1427.1 L708.2,1427.0 L711.4,1426.9 L714.4,1426.0 L717.5,1427.7 L720.6,1427.9 L723.9,1429.7 L726.5,1429.6 L729.2,1430.9 L732.0,1432.2 L734.8,1433.5 L737.6,1435.4 L740.4,1437.3 L743.1,1439.7 L745.8,1441.6 L748.2,1443.3 L750.5,1445.5 L752.9,1448.3 L755.2,1450.0 L757.5,1452.3 L759.8,1454.5 L762.1,1455.5 L764.3,1458.0 L766.4,1460.5 L768.3,1462.6 L770.0,1465.5 L771.8,1467.6 L773.5,1471.2 L775.1,1474.0 L776.8,1477.8 L778.5,1480.5 L780.3,1482.3 L782.0,1485.0 L783.9,1487.8 L785.8,1490.0 L787.8,1492.6 L789.9,1494.6 L791.9,1497.1 L794.0,1500.2 L796.1,1502.5 L798.2,1505.7 L800.3,1506.4 L802.4,1508.5 L804.5,1510.8 L807.0,1514.3 L809.4,1516.8 L811.8,1518.7 L814.2,1520.6 L816.7,1522.7 L819.3,1524.0 L822.0,1524.9 L825.0,1526.4 L827.5,1527.1 L830.1,1528.5 L832.7,1530.2 L835.4,1531.1 L838.2,1532.6 L841.1,1533.6 L844.2,1534.1 L847.4,1534.7 L850.7,1536.7 L854.3,1537.7 L857.0,1538.7 L859.8,1538.8 L862.7,1539.0 L865.8,1539.4 L868.9,1539.3 L872.1,1540.4 L875.3,1540.7 L878.6,1540.6 L881.9,1539.7 L885.2,1539.6 L888.5,1540.1 L891.8,1541.0 L895.0,1540.8 L898.2,1540.9 L901.4,1541.4 L904.5,1541.6 L907.7,1541.7 L910.9,1541.3 L914.1,1542.7 L917.3,1542.8 L920.5,1542.7 L923.6,1543.1 L926.8,1542.7 L929.9,1542.5 L933.1,1542.5 L936.1,1543.9 L939.2,1543.7 L942.2,1544.6 L945.5,1544.5 L948.9,1544.1 L952.4,1544.8 L956.0,1545.2 L959.6,1545.6 L963.0,1547.3 L966.4,1547.4 L969.7,1547.0 L972.7,1547.8 L975.5,1547.6 L977.9,1548.1 L980.1,1547.7 L981.8,1548.0" stroke="#f70505" stroke-width="6"/>
<path d="M255.6,1441.8 L257.8,1442.5 L261.0,1443.3 L264.6,1445.2 L266.9,1446.4 L269.3,1449.0 L271.8,1452.2 L274.4,1455.2 L276.8,1456.9 L279.1,1458.8 L281.5,1460.8 L283.7,1462.1 L285.9,1465.0 L288.0,1467.1 L290.4,1469.8 L292.5,1472.6 L294.6,1474.8 L296.9,1477.1 L299.4,1479.0 L301.9,1480.4 L304.5,1481.5 L307.0,1483.3 L308.8,1486.3 L310.4,1489.5 L312.1,1492.5 L313.9,1496.4 L315.9,1499.6 L317.9,1501.9 L320.0,1504.1 L322.3,1506.3 L324.7,1508.8 L327.0,1510.6 L329.3,1513.2 L331.5,1515.3 L333.8,1517.5 L336.0,1520.1 L338.2,1522.3 L340.5,1524.8 L342.7,1527.2 L344.4,1529.5 L346.0,1532.0 L347.6,1534.4 L349.3,1536.9 L350.9,1540.0 L352.6,1542.8 L354.3,1544.9 L356.1,1547.1 L358.2,1549.9 L360.4,1552.6 L362.7,1554.3 L365.0,1556.5 L367.2,1559.1 L369.4,1561.7 L371.6,1563.8 L374.0,1565.6 L376.3,1568.5 L378.6,1570.8 L380.9,1573.1 L383.2,1575.7 L385.6,1577.8 L387.8,1579.8 L390.0,1581.2 L392.2,1584.3 L394.5,1586.6 L396.8,1588.6 L399.0,1590.7 L401.3,1592.8 L403.9,1595.0 L406.5,1597.2 L409.1,1599.6 L411.7,1601.2 L414.3,1603.2 L416.9,1605.5 L420.0,1608.2 L423.1,1610.1 L426.3,1611.8 L429.4,1613.4 L432.5,1614.8 L435.1,1616.4 L437.7,1617.9 L440.4,1619.3 L443.0,1620.9 L445.6,1622.7 L448.2,1624.0 L451.3,1625.6 L454.4,1627.6 L457.6,1629.4 L460.7,1631.2 L463.8,1633.1 L466.9,1634.5 L470.1,1635.8 L473.2,1636.9 L476.4,1638.0 L479.5,1639.7 L482.6,1641.2 L485.7,1642.6 L488.9,1644.0 L492.0,1644.9 L495.1,1646.1 L498.2,1647.0 L501.2,1647.9 L504.2,1648.4 L507.3,1649.4 L510.7,1650.4 L513.5,1650.7 L516.1,1651.5 L518.8,1652.3 L521.9,1653.4 L525.6,1654.7 L530.0,1655.2 L532.5,1656.2 L535.2,1656.9 L538.2,1657.3 L541.5,1657.8 L544.8,1658.8 L548.3,1659.4 L551.8,1660.1 L555.2,1660.8 L558.6,1662.2 L561.7,1662.1 L564.7,1663.5 L567.4,1663.5 L569.8,1664.5 L573.9,1665.5 L577.1,1666.8 L579.6,1667.7 L581.9,1668.7 L584.2,1670.1 L586.9,1670.3 L589.8,1670.0 L592.6,1670.2 L595.4,1669.5 L598.5,1669.5 L602.1,1669.8 L606.4,1670.0 L608.9,1670.3 L611.5,1671.3 L614.4,1672.2 L617.4,1672.6 L620.6,1673.1 L623.8,1673.2 L627.1,1673.1 L630.4,1673.4 L633.6,1673.6 L636.8,1674.0 L640.0,1674.5 L643.0,1675.3 L646.1,1676.1 L649.1,1676.4 L652.0,1676.9 L654.9,1676.8 L657.7,1677.4 L660.6,1677.4 L663.5,1677.9 L666.6,1678.8 L669.9,1679.1 L673.4,1679.2 L677.1,1679.7 L679.6,1679.7 L682.2,1680.1 L684.9,1680.1 L687.6,1680.8 L690.4,1681.0 L693.2,1681.3 L696.1,1681.6 L699.1,1681.9 L702.1,1682.3 L705.2,1682.5 L708.3,1682.7 L711.5,1683.2 L714.8,1683.6 L718.1,1684.1 L721.5,1684.6 L724.9,1685.0 L728.4,1685.0 L731.2,1685.0 L734.0,1685.3 L736.9,1685.5 L739.8,1686.1 L742.8,1686.1 L745.8,1686.6 L748.9,1686.4 L752.0,1687.0 L755.2,1687.1 L758.3,1687.1 L761.5,1687.1 L764.7,1687.3 L768.0,1687.7 L771.2,1688.7 L774.4,1689.2 L777.7,1689.4 L780.9,1689.4 L784.1,1689.7 L787.3,1689.6 L790.5,1689.5 L793.7,1689.8 L796.8,1690.3 L800.0,1691.5 L803.2,1690.9 L806.5,1691.0 L809.8,1691.1 L813.2,1691.3 L816.6,1691.5 L820.0,1691.9 L823.5,1692.0 L826.9,1692.6 L830.3,1692.4 L833.7,1692.8 L837.0,1693.0 L840.3,1693.3 L843.5,1693.9 L846.6,1693.9 L849.6,1694.3 L852.6,1694.4 L855.4,1694.8 L858.0,1695.2 L860.6,1695.3 L863.0,1695.8 L865.2,1695.6 L870.3,1696.7 L874.2,1696.6 L877.2,1697.3 L879.6,1698.0 L881.8,1698.7 L884.2,1698.8 L887.1,1699.2 L890.8,1699.5 L893.3,1699.7 L896.0,1699.8 L898.7,1699.8 L901.6,1699.8 L904.6,1700.1 L907.7,1700.1 L910.8,1699.9 L914.0,1699.5 L917.2,1699.5 L920.5,1699.3 L923.8,1700.0 L927.1,1700.3 L930.3,1699.8 L933.6,1699.9 L936.7,1700.3 L940.1,1700.1 L943.6,1699.9 L947.2,1699.5 L950.9,1699.6 L954.7,1699.8 L958.4,1700.0 L962.0,1700.3 L965.5,1700.3 L968.8,1700.4 L972.0,1700.7 L974.8,1700.4 L977.4,1700.2 L979.6,1699.9 L981.4,1700.0" stroke="#000" stroke-width="6"/>
<path d="M1038.1,389.3 L1038.2,391.0 L1038.2,393.3 L1038.3,396.8 L1038.4,399.9 L1038.5,403.1 L1038.6,406.9 L1038.7,409.6 L1038.8,414.0 L1039.0,418.3 L1039.2,421.4 L1039.5,426.6 L1039.8,428.7 L1040.1,431.2 L1040.6,434.6 L1041.3,438.2 L1042.0,441.8 L1042.8,442.8 L1043.7,445.1 L1044.5,449.2 L1045.4,451.7 L1046.2,454.4 L1046.9,457.5 L1047.6,461.9 L1048.1,464.4 L1048.5,466.4 L1049.0,468.5 L1049.4,471.1 L1049.7,474.4 L1050.1,477.1 L1050.5,479.9 L1050.8,484.5 L1051.2,488.4 L1051.7,491.2 L1052.1,495.8 L1052.6,499.3 L1053.0,501.4 L1053.4,504.6 L1053.8,507.6 L1054.3,510.1 L1054.7,514.3 L1055.2,516.2 L1055.6,520.2 L1056.1,523.1 L1056.6,527.1 L1057.1,530.4 L1057.6,534.1 L1058.1,535.6 L1058.6,539.0 L1059.1,543.1 L1059.6,545.7 L1060.1,550.0 L1060.6,553.1 L1061.2,556.3 L1061.8,558.6 L1062.4,560.1 L1062.9,563.9 L1063.5,567.3 L1064.1,570.9 L1064.7,573.5 L1065.3,575.7 L1065.9,578.7 L1066.5,581.0 L1067.1,584.1 L1067.7,587.6 L1068.3,590.8 L1068.9,594.2 L1069.6,597.0 L1070.3,600.9 L1071.0,603.8 L1071.7,606.1 L1072.4,608.9 L1073.1,612.4 L1073.9,615.2 L1074.6,618.2 L1075.3,621.9 L1076.1,624.2 L1076.9,627.7 L1077.7,630.7 L1078.4,633.2 L1079.2,636.9 L1080.0,641.2 L1080.8,644.1 L1081.7,647.1 L1082.5,651.5 L1083.3,654.9 L1084.2,658.2 L1085.0,661.8 L1085.9,664.5 L1086.7,667.1 L1087.5,670.2 L1088.3,672.6 L1089.0,673.8 L1090.6,679.0 L1092.1,682.4 L1093.5,686.0 L1094.9,687.6 L1096.3,688.4 L1097.8,691.4 L1099.4,694.3 L1101.1,698.2 L1102.9,701.2 L1104.6,704.2 L1106.2,706.1 L1107.8,709.0 L1108.9,712.7 L1109.9,714.7 L1110.8,718.2 L1111.7,722.1 L1112.7,724.5 L1114.0,727.5 L1115.6,728.7 L1117.6,732.5 L1120.0,733.7 L1122.6,736.6 L1125.3,738.3 L1128.0,738.9 L1130.7,740.3 L1133.2,742.2 L1135.6,745.0 L1137.9,748.6 L1140.2,750.9 L1142.4,753.8 L1144.6,755.4 L1146.8,758.5 L1148.9,760.8 L1151.3,763.8 L1153.7,766.8 L1155.9,770.4 L1158.2,773.1 L1160.4,775.4 L1162.5,777.3 L1165.5,779.2 L1168.4,781.2 L1171.3,782.9 L1174.3,784.8 L1176.4,786.8 L1178.6,788.7 L1180.9,790.5 L1183.1,793.5 L1185.5,795.0 L1187.9,797.8 L1190.4,799.6 L1193.1,802.1 L1195.8,805.4 L1198.4,807.5 L1201.1,809.4 L1203.6,810.2 L1207.1,810.7 L1210.3,812.0 L1213.6,812.7 L1217.2,812.1 L1220.5,812.1 L1224.0,812.2 L1227.6,812.1 L1231.2,812.3 L1234.8,811.8 L1237.3,810.1 L1239.9,809.5 L1242.4,806.8 L1245.0,805.0 L1247.5,803.3 L1250.0,799.8 L1252.4,798.2 L1254.8,796.0 L1257.1,794.0 L1259.3,792.2 L1261.6,789.8 L1263.7,786.8 L1265.9,786.0 L1268.0,784.1 L1270.4,781.1 L1272.8,778.4 L1275.1,776.3 L1277.3,773.0 L1279.5,770.8 L1281.7,766.8 L1283.3,764.8 L1284.8,762.3 L1286.4,758.9 L1287.8,755.4 L1289.3,752.3 L1290.7,748.7 L1292.1,745.5 L1293.5,743.4 L1295.6,740.5 L1297.5,737.2 L1299.4,735.0 L1301.3,732.8 L1303.2,729.9 L1304.6,727.2 L1305.9,724.9 L1307.3,722.4 L1308.7,720.4 L1310.1,717.7 L1311.5,714.1 L1313.0,711.5 L1314.2,708.1 L1315.5,704.3 L1316.8,700.7 L1318.2,697.6 L1319.5,695.6 L1320.9,692.2 L1322.2,687.6 L1323.5,685.0 L1324.7,682.3 L1326.8,678.6 L1328.7,676.9 L1330.5,675.2 L1332.4,672.7 L1334.5,671.6 L1338.1,670.4 L1341.9,670.3 L1346.2,672.5 L1348.3,673.7 L1350.5,674.8 L1352.8,677.0 L1355.2,678.2 L1357.5,680.8 L1359.7,684.1 L1361.8,686.9 L1363.5,688.8 L1365.1,691.1 L1366.7,693.6 L1368.2,696.9 L1369.6,699.4 L1371.0,702.7 L1372.3,705.3 L1373.6,708.6 L1374.8,711.0 L1375.8,712.9 L1376.7,716.8 L1377.6,719.6 L1378.5,722.6 L1379.4,726.1 L1380.4,729.9 L1381.4,732.8 L1382.3,735.7 L1383.2,738.8 L1384.2,742.0 L1385.2,744.0 L1386.2,746.6 L1387.2,749.5 L1388.2,752.4 L1389.2,755.6 L1390.2,759.2 L1391.2,762.5 L1392.2,767.2 L1393.1,770.3 L1394.1,773.3 L1395.0,776.2 L1395.9,779.4 L1396.9,780.8 L1397.8,783.8 L1398.8,786.5 L1399.8,790.3 L1400.9,793.0 L1402.0,796.2 L1403.2,799.2 L1404.4,802.0 L1405.6,806.1 L1406.8,809.0 L1408.0,810.6 L1409.2,814.7 L1410.4,816.4 L1411.6,820.2 L1412.7,824.2 L1414.4,826.2 L1415.9,829.8 L1417.4,832.1 L1418.9,834.0 L1420.6,837.4 L1422.4,839.4 L1424.1,841.8 L1425.7,843.9 L1427.5,846.7 L1429.3,849.0 L1431.4,851.3 L1433.6,855.0 L1436.1,857.8 L1438.3,858.9 L1440.7,860.9 L1443.3,863.1 L1446.0,865.0 L1448.8,867.5 L1451.6,869.4 L1454.3,872.0 L1457.0,873.0 L1459.6,874.6 L1462.8,876.0 L1465.9,876.9 L1469.0,878.9 L1472.1,879.4 L1475.1,878.0 L1478.1,879.5 L1481.0,879.8 L1484.1,880.5 L1487.0,881.4 L1489.8,882.2 L1492.7,882.6 L1496.0,883.1 L1500.0,884.3 L1502.4,885.0 L1504.9,885.7 L1507.4,885.7 L1510.1,885.3 L1512.9,886.2 L1515.8,886.5 L1518.9,886.5 L1522.2,887.0 L1525.7,887.4 L1529.4,887.1 L1533.4,887.9 L1535.8,888.8 L1538.3,889.0 L1540.9,889.2 L1543.5,889.8 L1546.2,889.8 L1549.0,890.3 L1551.9,890.9 L1554.8,891.5 L1557.8,891.4 L1560.8,892.4 L1563.9,891.9 L1567.0,893.1 L1570.2,893.0 L1573.5,893.9 L1576.8,895.0 L1580.2,895.8 L1583.6,895.3 L1587.0,894.8 L1590.5,895.2 L1593.2,894.3 L1595.9,895.6 L1598.6,894.5 L1601.4,895.3 L1604.2,894.5 L1607.0,894.5 L1609.8,895.4 L1612.7,894.8 L1615.6,895.1 L1618.6,894.3 L1621.5,896.1 L1624.5,895.5 L1627.6,895.9 L1630.6,896.2 L1633.7,895.6 L1636.9,895.5 L1640.0,896.3 L1643.2,896.3 L1646.5,896.0 L1649.8,896.3 L1653.1,895.9 L1656.4,896.5 L1659.8,896.8 L1663.2,896.0 L1666.7,897.0 L1669.5,896.9 L1672.4,896.8 L1675.4,897.4 L1678.6,896.7 L1681.8,897.3 L1685.1,897.4 L1688.5,897.7 L1692.0,898.6 L1695.5,897.5 L1699.0,897.3 L1702.6,897.6 L1706.2,897.4 L1709.8,897.5 L1713.4,897.8 L1717.0,896.4 L1720.5,896.5 L1724.0,896.1 L1727.5,896.7 L1730.9,896.1 L1734.2,896.5 L1737.5,896.9 L1740.7,897.0 L1743.7,897.7 L1746.7,897.7 L1749.5,897.2 L1752.2,896.7 L1754.7,897.0 L1757.1,898.3 L1759.3,897.3 L1761.3,896.9 L1763.2,896.4 L1764.8,896.7" stroke="#f70505" stroke-width="6"/>
<path d="M1038.1,701.3 L1038.4,703.1 L1038.8,705.2 L1039.2,707.0 L1039.7,710.4 L1040.3,713.5 L1040.8,716.7 L1041.4,719.9 L1042.1,724.2 L1042.7,727.7 L1043.3,731.4 L1043.9,734.0 L1044.5,736.9 L1045.1,739.6 L1045.6,742.6 L1046.1,744.0 L1046.5,749.0 L1047.0,752.0 L1047.5,755.0 L1047.9,758.6 L1048.4,761.1 L1048.9,764.3 L1049.4,767.8 L1049.9,769.6 L1050.4,774.1 L1050.9,776.9 L1051.5,780.1 L1052.0,782.1 L1052.6,784.9 L1053.2,789.4 L1053.9,791.8 L1054.6,794.6 L1055.3,798.1 L1056.0,802.1 L1056.8,803.1 L1057.5,807.7 L1058.2,810.7 L1059.0,814.1 L1059.7,816.1 L1060.5,819.4 L1061.2,823.4 L1062.0,825.7 L1062.7,828.0 L1063.5,831.1 L1064.4,834.3 L1065.2,838.4 L1066.0,841.7 L1066.9,844.6 L1067.7,848.4 L1068.5,850.7 L1069.4,853.1 L1070.2,858.3 L1071.0,860.3 L1071.9,864.1 L1072.7,866.2 L1073.8,869.2 L1074.9,872.5 L1076.0,874.6 L1077.1,876.9 L1078.2,879.7 L1079.4,882.3 L1080.5,885.6 L1081.6,889.4 L1082.7,890.8 L1083.8,893.3 L1084.8,897.3 L1085.9,900.7 L1086.9,904.5 L1088.0,906.8 L1089.1,910.4 L1090.2,913.2 L1091.5,914.9 L1092.8,918.3 L1094.7,920.5 L1096.7,924.2 L1098.8,926.6 L1101.0,929.1 L1103.3,932.9 L1105.6,935.5 L1107.9,937.1 L1110.3,938.9 L1112.8,940.0 L1115.4,942.7 L1117.9,944.5 L1120.5,945.3 L1123.0,945.9 L1125.4,948.0 L1128.6,950.2 L1131.7,952.7 L1134.8,953.4 L1137.7,954.8 L1140.5,957.3 L1143.1,959.4 L1145.4,961.9 L1147.8,964.5 L1150.2,965.8 L1153.0,967.2 L1155.0,970.1 L1157.0,972.5 L1159.2,975.7 L1161.5,976.8 L1163.8,980.5 L1166.1,983.7 L1168.4,986.0 L1170.6,988.9 L1173.1,991.1 L1175.6,993.3 L1178.1,995.8 L1180.7,997.9 L1183.2,999.7 L1185.7,1000.8 L1188.2,1001.9 L1191.1,1003.7 L1194.0,1005.3 L1196.8,1006.2 L1199.7,1008.0 L1202.7,1009.8 L1205.8,1010.2 L1209.0,1010.2 L1212.4,1011.4 L1215.9,1011.2 L1219.3,1010.6 L1222.7,1010.9 L1225.9,1010.1 L1228.9,1010.6 L1231.8,1010.1 L1234.6,1009.8 L1237.5,1009.8 L1240.4,1009.0 L1243.4,1006.8 L1245.8,1003.5 L1248.2,1002.0 L1250.7,999.6 L1253.3,998.5 L1255.8,997.1 L1258.4,994.6 L1261.0,992.1 L1263.5,989.6 L1265.8,987.5 L1268.1,984.7 L1270.4,983.0 L1272.7,980.2 L1275.0,977.1 L1277.3,975.2 L1279.5,974.1 L1281.6,971.3 L1283.6,967.8 L1285.7,966.5 L1287.8,963.8 L1289.7,961.3 L1291.6,958.1 L1293.4,955.8 L1295.2,954.2 L1296.9,950.9 L1298.7,949.2 L1301.6,946.3 L1304.5,943.2 L1307.3,941.5 L1309.8,939.9 L1312.0,937.1 L1314.0,934.9 L1315.3,930.6 L1316.5,928.5 L1318.0,926.2 L1320.6,924.5 L1323.5,923.1 L1326.3,921.3 L1328.1,917.9 L1329.7,915.7 L1331.4,913.0 L1333.5,911.2 L1336.2,910.0 L1339.4,908.4 L1342.6,907.0 L1345.5,907.5 L1348.8,908.2 L1351.7,910.3 L1355.0,912.9 L1356.9,916.1 L1358.9,918.0 L1361.0,922.3 L1363.1,924.2 L1365.1,927.0 L1367.0,930.2 L1368.5,932.4 L1370.0,934.2 L1371.4,936.7 L1372.8,939.4 L1374.1,942.6 L1375.4,946.6 L1376.6,950.0 L1377.5,952.5 L1378.3,955.5 L1379.0,956.5 L1379.7,959.5 L1380.4,962.5 L1381.1,965.3 L1381.9,969.2 L1382.8,972.0 L1383.8,974.8 L1384.7,978.5 L1385.7,980.8 L1386.7,983.7 L1387.8,985.8 L1388.9,989.9 L1390.0,992.8 L1391.2,996.7 L1392.3,1000.5 L1393.5,1002.9 L1394.6,1004.7 L1395.7,1006.7 L1397.0,1011.0 L1398.3,1013.6 L1399.6,1016.9 L1400.9,1019.8 L1402.2,1020.4 L1403.5,1024.3 L1404.9,1027.6 L1406.3,1030.6 L1407.7,1033.1 L1409.6,1036.5 L1411.6,1038.9 L1413.7,1042.5 L1415.8,1044.9 L1417.9,1047.7 L1420.0,1051.2 L1422.1,1053.0 L1424.9,1054.6 L1427.6,1057.0 L1430.3,1057.8 L1433.2,1060.0 L1436.4,1062.7 L1439.1,1063.0 L1441.8,1064.3 L1444.7,1065.0 L1447.8,1066.6 L1451.4,1068.1 L1455.6,1069.3 L1458.0,1069.6 L1460.5,1069.1 L1463.1,1069.8 L1465.9,1070.7 L1468.8,1072.3 L1471.8,1071.7 L1474.9,1073.6 L1478.0,1073.7 L1481.3,1073.4 L1484.6,1075.6 L1488.0,1076.2 L1491.5,1075.9 L1494.2,1076.7 L1496.9,1077.4 L1499.7,1076.6 L1502.6,1078.1 L1505.6,1077.7 L1508.5,1078.6 L1511.6,1078.4 L1514.6,1077.7 L1517.7,1078.2 L1520.8,1078.6 L1524.0,1079.3 L1527.1,1078.7 L1530.2,1078.9 L1533.2,1080.0 L1536.3,1080.3 L1539.3,1080.5 L1542.2,1081.3 L1545.1,1080.8 L1547.9,1082.8 L1550.7,1082.2 L1553.5,1082.8 L1556.2,1082.9 L1559.0,1083.9 L1561.8,1083.6 L1564.6,1083.4 L1567.5,1084.1 L1570.5,1084.8 L1573.5,1084.9 L1576.7,1086.4 L1580.1,1086.5 L1583.5,1087.0 L1587.2,1087.3 L1589.8,1087.4 L1592.5,1086.7 L1595.1,1087.6 L1597.9,1086.9 L1600.6,1086.9 L1603.4,1087.7 L1606.2,1088.0 L1609.1,1086.9 L1612.0,1086.8 L1615.0,1086.5 L1618.0,1087.7 L1621.1,1087.4 L1624.2,1087.6 L1627.4,1087.2 L1630.6,1087.2 L1633.9,1088.0 L1637.3,1087.4 L1640.7,1087.7 L1644.2,1087.6 L1647.8,1087.7 L1651.5,1087.1 L1655.2,1088.4 L1659.0,1087.3 L1661.6,1087.0 L1664.3,1087.4 L1667.2,1087.8 L1670.1,1087.6 L1673.2,1086.9 L1676.4,1087.2 L1679.6,1087.1 L1682.9,1087.2 L1686.3,1088.6 L1689.7,1087.1 L1693.2,1087.5 L1696.7,1088.0 L1700.2,1087.7 L1703.8,1087.6 L1707.3,1088.4 L1710.9,1087.9 L1714.4,1086.8 L1717.9,1087.0 L1721.4,1087.5 L1724.8,1087.3 L1728.2,1087.0 L1731.5,1087.4 L1734.7,1087.1 L1737.9,1087.3 L1740.9,1087.7 L1743.9,1087.1 L1746.7,1086.2 L1749.4,1087.5 L1752.0,1087.6 L1754.5,1086.8 L1756.8,1086.1 L1758.9,1086.7 L1760.9,1087.0 L1762.7,1087.1 L1764.3,1087.0" stroke="#f70505" stroke-width="6"/>
<path d="M1038.1,957.4 L1038.5,959.3 L1038.9,961.6 L1039.4,963.8 L1039.9,967.9 L1040.5,969.5 L1041.2,973.1 L1041.9,977.3 L1042.6,981.0 L1043.3,984.7 L1044.0,987.4 L1044.8,992.2 L1045.5,994.8 L1046.2,998.0 L1046.9,1001.0 L1047.6,1003.8 L1048.5,1007.0 L1049.4,1011.4 L1050.2,1014.2 L1051.1,1017.7 L1052.0,1019.2 L1052.9,1022.7 L1053.8,1025.3 L1054.7,1028.4 L1055.6,1031.2 L1056.6,1034.1 L1057.6,1036.7 L1058.8,1039.8 L1060.0,1042.9 L1061.2,1046.0 L1062.5,1048.9 L1063.7,1051.6 L1065.0,1054.9 L1066.3,1057.3 L1067.6,1061.7 L1068.9,1064.7 L1070.2,1068.1 L1071.4,1070.3 L1072.7,1072.2 L1073.9,1074.6 L1075.1,1077.7 L1076.3,1080.9 L1077.5,1084.2 L1078.8,1087.3 L1080.0,1091.0 L1081.3,1092.4 L1082.7,1097.0 L1084.1,1099.6 L1085.6,1102.7 L1087.1,1104.5 L1088.7,1108.2 L1090.2,1110.4 L1091.8,1114.1 L1093.4,1117.1 L1094.9,1119.8 L1096.4,1122.1 L1097.8,1124.1 L1100.0,1127.3 L1102.1,1130.7 L1104.1,1132.9 L1106.1,1135.1 L1108.2,1138.5 L1110.4,1139.9 L1112.7,1140.9 L1115.0,1141.5 L1117.4,1142.5 L1119.9,1145.4 L1122.6,1148.2 L1125.4,1149.5 L1128.0,1150.8 L1130.8,1152.9 L1133.8,1155.1 L1136.8,1157.5 L1139.8,1159.1 L1142.7,1160.4 L1145.5,1162.9 L1148.1,1164.1 L1150.7,1165.3 L1153.2,1167.2 L1155.7,1169.6 L1158.1,1171.7 L1160.6,1174.1 L1163.1,1176.3 L1165.6,1179.8 L1168.1,1181.4 L1170.5,1181.6 L1173.0,1183.2 L1175.5,1186.0 L1178.1,1187.7 L1180.7,1191.2 L1183.4,1192.3 L1186.2,1193.7 L1189.0,1195.6 L1191.8,1197.1 L1194.7,1199.1 L1197.7,1200.2 L1200.7,1201.8 L1203.8,1202.5 L1207.0,1202.1 L1210.2,1204.3 L1213.5,1206.5 L1216.8,1206.4 L1220.0,1206.8 L1223.3,1208.1 L1226.6,1208.0 L1229.8,1208.4 L1233.1,1208.3 L1236.4,1208.8 L1239.6,1208.4 L1242.8,1209.4 L1245.9,1208.5 L1249.4,1207.5 L1252.8,1205.8 L1256.1,1205.4 L1259.4,1204.1 L1262.7,1203.9 L1266.0,1203.2 L1268.9,1203.7 L1271.9,1201.3 L1274.9,1200.2 L1277.9,1199.6 L1280.8,1196.8 L1283.6,1196.5 L1286.1,1196.4 L1289.1,1194.1 L1291.6,1191.9 L1294.0,1190.5 L1296.7,1188.2 L1300.0,1186.0 L1302.6,1185.0 L1305.5,1182.7 L1308.6,1182.6 L1311.9,1180.4 L1315.2,1178.8 L1318.4,1177.1 L1321.3,1174.3 L1323.9,1172.9 L1327.4,1171.6 L1330.5,1170.2 L1333.2,1169.4 L1335.7,1169.3 L1338.3,1167.7 L1341.5,1166.1 L1344.6,1165.1 L1347.5,1166.2 L1350.3,1166.3 L1352.8,1168.0 L1355.0,1171.3 L1357.3,1173.5 L1359.8,1176.0 L1362.0,1178.0 L1364.4,1178.9 L1366.9,1181.3 L1369.4,1183.9 L1371.8,1186.9 L1373.5,1188.7 L1375.1,1189.8 L1376.7,1192.5 L1378.3,1196.2 L1380.0,1198.5 L1381.8,1201.0 L1383.8,1204.5 L1385.5,1207.2 L1387.2,1209.5 L1389.1,1212.1 L1391.0,1214.8 L1393.0,1217.3 L1394.9,1219.6 L1396.9,1222.9 L1398.7,1223.9 L1400.5,1227.6 L1402.7,1230.0 L1404.7,1232.0 L1406.7,1235.4 L1408.7,1238.6 L1410.7,1240.1 L1412.7,1242.9 L1414.9,1245.8 L1417.5,1248.6 L1420.3,1250.5 L1423.1,1251.8 L1425.9,1253.8 L1428.8,1257.0 L1431.6,1257.4 L1435.0,1260.6 L1438.4,1260.6 L1441.8,1260.9 L1445.2,1261.1 L1448.4,1262.2 L1451.2,1263.4 L1453.6,1264.0 L1456.1,1266.8 L1459.0,1268.3 L1462.8,1269.0 L1465.3,1268.2 L1468.1,1268.6 L1471.0,1269.1 L1474.2,1270.1 L1477.5,1270.2 L1480.9,1269.8 L1484.4,1270.4 L1487.9,1270.8 L1491.5,1271.5 L1494.2,1272.4 L1496.8,1272.2 L1499.4,1271.7 L1502.0,1273.4 L1504.7,1274.4 L1507.5,1273.7 L1510.4,1274.8 L1513.4,1274.8 L1516.6,1275.7 L1520.0,1276.2 L1523.5,1275.5 L1527.4,1275.5 L1530.0,1276.0 L1532.6,1275.6 L1535.4,1275.7 L1538.2,1275.9 L1541.1,1276.6 L1544.1,1277.0 L1547.2,1276.9 L1550.3,1277.2 L1553.4,1278.3 L1556.7,1278.5 L1559.9,1278.6 L1563.3,1278.0 L1566.6,1277.7 L1570.0,1277.3 L1573.4,1277.4 L1576.8,1276.9 L1580.3,1277.7 L1583.7,1278.0 L1587.2,1278.1 L1590.1,1278.1 L1592.9,1277.8 L1595.7,1278.9 L1598.6,1279.4 L1601.4,1280.1 L1604.2,1279.9 L1607.1,1279.6 L1610.0,1280.1 L1612.9,1279.1 L1615.8,1278.5 L1618.8,1279.6 L1621.8,1280.0 L1624.8,1280.0 L1627.9,1280.8 L1631.1,1280.3 L1634.3,1280.3 L1637.6,1280.4 L1640.9,1279.4 L1644.4,1280.0 L1647.9,1280.4 L1651.5,1280.2 L1655.2,1279.7 L1659.0,1279.3 L1661.6,1278.3 L1664.3,1278.7 L1667.2,1280.1 L1670.1,1280.8 L1673.2,1280.3 L1676.4,1279.6 L1679.6,1280.5 L1682.9,1280.8 L1686.3,1280.7 L1689.7,1279.8 L1693.2,1280.2 L1696.7,1280.5 L1700.2,1279.8 L1703.8,1279.2 L1707.3,1279.1 L1710.9,1279.5 L1714.4,1279.7 L1717.9,1279.9 L1721.4,1279.6 L1724.8,1279.2 L1728.2,1279.4 L1731.5,1280.0 L1734.7,1279.7 L1737.9,1279.8 L1740.9,1279.4 L1743.9,1278.8 L1746.7,1278.7 L1749.4,1278.7 L1752.0,1277.9 L1754.5,1278.3 L1756.8,1278.2 L1758.9,1278.7 L1760.9,1279.0 L1762.7,1278.9 L1764.3,1278.8" stroke="#f70505" stroke-width="6"/>
<path d="M1038.8,1170.2 L1039.5,1171.8 L1040.3,1173.8 L1041.3,1176.7 L1042.4,1179.3 L1043.7,1182.1 L1044.9,1184.9 L1046.3,1189.5 L1047.6,1193.0 L1048.9,1196.3 L1050.1,1199.3 L1051.1,1201.0 L1052.1,1204.8 L1053.2,1207.7 L1054.2,1211.1 L1055.3,1215.3 L1056.3,1217.8 L1057.4,1220.7 L1058.5,1224.3 L1059.5,1226.9 L1060.6,1229.8 L1061.6,1231.9 L1062.7,1234.4 L1063.9,1237.1 L1065.2,1241.5 L1066.4,1245.5 L1067.6,1247.9 L1068.8,1250.8 L1070.0,1253.6 L1071.3,1258.3 L1072.5,1261.1 L1073.8,1263.3 L1075.2,1266.3 L1076.6,1269.6 L1078.0,1271.3 L1079.5,1274.6 L1080.9,1277.6 L1082.4,1280.2 L1084.0,1283.3 L1085.5,1286.4 L1087.1,1288.6 L1088.7,1290.7 L1090.3,1293.8 L1092.1,1296.3 L1093.9,1299.0 L1095.6,1302.4 L1097.4,1304.4 L1099.3,1306.3 L1101.2,1307.7 L1103.3,1310.7 L1105.5,1313.4 L1107.9,1316.3 L1109.8,1318.4 L1111.9,1320.7 L1114.1,1322.6 L1116.4,1324.6 L1118.7,1327.0 L1121.1,1328.6 L1123.5,1330.3 L1125.9,1332.1 L1128.4,1334.8 L1130.8,1335.9 L1133.2,1338.2 L1135.5,1340.4 L1138.3,1342.9 L1141.1,1344.3 L1143.9,1346.6 L1146.7,1348.5 L1149.5,1350.0 L1152.2,1351.9 L1155.0,1353.5 L1157.7,1354.6 L1160.4,1356.4 L1163.1,1357.7 L1166.0,1361.1 L1168.8,1362.3 L1171.7,1363.6 L1174.4,1364.6 L1177.2,1366.7 L1179.9,1368.8 L1182.7,1370.4 L1185.4,1371.2 L1188.2,1372.5 L1191.0,1373.9 L1193.8,1376.2 L1196.6,1377.4 L1199.4,1379.2 L1202.1,1381.9 L1204.9,1381.8 L1207.7,1383.3 L1210.5,1384.7 L1213.3,1385.1 L1216.4,1387.5 L1219.6,1388.3 L1222.7,1389.6 L1225.8,1390.7 L1229.0,1392.2 L1232.1,1392.1 L1235.3,1392.5 L1238.4,1392.8 L1241.5,1393.4 L1244.7,1396.0 L1247.8,1396.5 L1251.0,1396.4 L1254.1,1398.2 L1257.2,1400.0 L1260.4,1399.5 L1263.5,1399.9 L1266.7,1399.2 L1270.1,1398.3 L1273.5,1398.7 L1276.9,1398.0 L1280.2,1397.4 L1283.3,1397.6 L1286.1,1397.7 L1288.6,1397.3 L1293.3,1397.7 L1296.5,1396.7 L1300.0,1395.9 L1303.5,1395.9 L1307.3,1396.1 L1311.1,1395.6 L1314.4,1394.1 L1317.6,1391.8 L1320.2,1388.8 L1323.9,1388.4 L1326.5,1387.5 L1329.6,1388.3 L1332.9,1387.2 L1336.3,1385.4 L1339.8,1386.5 L1343.1,1386.8 L1346.3,1387.0 L1349.4,1388.1 L1352.5,1389.3 L1355.7,1390.9 L1358.9,1391.2 L1362.2,1393.3 L1364.8,1395.0 L1367.5,1395.6 L1370.3,1398.2 L1373.1,1399.4 L1375.9,1399.7 L1378.7,1402.8 L1381.3,1404.1 L1383.8,1405.8 L1386.4,1407.6 L1388.9,1410.8 L1391.2,1412.3 L1393.4,1413.7 L1395.7,1415.4 L1398.0,1418.1 L1400.5,1420.5 L1402.8,1421.7 L1405.2,1424.3 L1407.7,1425.6 L1410.2,1427.7 L1412.7,1429.9 L1415.2,1431.7 L1417.5,1433.3 L1419.7,1434.8 L1422.8,1436.2 L1425.7,1437.9 L1428.3,1439.4 L1431.1,1439.7 L1434.0,1440.5 L1436.5,1442.5 L1439.0,1443.9 L1441.5,1445.4 L1444.2,1447.1 L1447.3,1448.3 L1450.8,1448.8 L1453.4,1449.8 L1456.2,1449.8 L1459.2,1451.5 L1462.3,1452.2 L1465.6,1452.1 L1469.0,1452.0 L1472.4,1452.8 L1475.9,1453.1 L1479.5,1453.1 L1482.1,1454.1 L1484.7,1454.5 L1487.1,1455.4 L1489.6,1455.4 L1492.1,1456.9 L1494.8,1457.7 L1497.5,1456.3 L1500.5,1455.6 L1503.7,1456.0 L1507.3,1458.0 L1511.1,1458.6 L1515.4,1458.7 L1517.8,1458.9 L1520.3,1458.2 L1523.0,1458.7 L1525.8,1458.4 L1528.6,1459.1 L1531.6,1459.1 L1534.6,1459.2 L1537.7,1459.3 L1540.9,1460.1 L1544.1,1461.3 L1547.4,1459.9 L1550.7,1460.7 L1554.1,1460.5 L1557.4,1461.6 L1560.8,1462.0 L1564.2,1461.1 L1567.6,1461.3 L1570.9,1462.3 L1574.3,1462.9 L1577.6,1462.0 L1580.8,1461.3 L1584.0,1461.8 L1587.2,1462.8 L1590.3,1463.0 L1593.3,1462.8 L1596.3,1462.9 L1599.3,1463.0 L1602.2,1462.8 L1605.1,1462.2 L1608.0,1462.8 L1610.9,1463.0 L1613.7,1463.4 L1616.6,1463.1 L1619.5,1462.7 L1622.5,1463.3 L1625.5,1463.6 L1628.5,1464.4 L1631.5,1462.9 L1634.7,1462.7 L1637.9,1462.8 L1641.2,1464.2 L1644.5,1462.3 L1648.0,1463.3 L1651.5,1462.8 L1655.2,1462.3 L1659.0,1463.3 L1661.6,1463.7 L1664.3,1461.5 L1667.2,1461.6 L1670.1,1462.3 L1673.2,1462.4 L1676.4,1463.4 L1679.6,1462.7 L1682.9,1462.7 L1686.3,1461.5 L1689.7,1462.5 L1693.2,1462.7 L1696.7,1463.2 L1700.2,1462.6 L1703.8,1463.7 L1707.3,1462.8 L1710.9,1463.8 L1714.4,1464.3 L1717.9,1462.9 L1721.4,1462.8 L1724.8,1462.2 L1728.2,1461.2 L1731.5,1462.1 L1734.7,1462.2 L1737.9,1463.0 L1740.9,1463.6 L1743.9,1461.8 L1746.7,1461.8 L1749.4,1462.2 L1752.0,1462.6 L1754.5,1462.4 L1756.8,1461.7 L1758.9,1461.8 L1760.9,1462.1 L1762.7,1461.8 L1764.3,1461.9" stroke="#f70505" stroke-width="6"/>
<path d="M1038.8,1381.1 L1039.5,1382.8 L1040.3,1385.2 L1041.3,1388.1 L1042.4,1391.2 L1043.7,1394.9 L1044.9,1398.0 L1046.3,1401.7 L1047.6,1405.2 L1048.9,1408.6 L1050.1,1411.2 L1051.3,1414.7 L1052.6,1417.4 L1053.9,1420.4 L1055.3,1423.3 L1056.6,1425.7 L1058.0,1428.2 L1059.3,1431.2 L1060.5,1433.8 L1061.6,1436.2 L1062.7,1438.7 L1064.0,1442.1 L1064.9,1444.8 L1065.7,1446.9 L1066.5,1449.7 L1067.5,1452.6 L1068.6,1455.4 L1070.2,1459.3 L1071.4,1461.0 L1072.9,1463.4 L1074.4,1466.6 L1076.1,1469.2 L1077.8,1472.0 L1079.6,1474.8 L1081.4,1477.8 L1083.1,1480.7 L1084.8,1483.1 L1086.4,1486.7 L1087.8,1489.2 L1089.1,1492.1 L1090.3,1495.2 L1091.4,1498.4 L1092.4,1501.3 L1093.4,1503.7 L1094.4,1506.6 L1095.4,1510.1 L1096.5,1513.2 L1097.6,1516.5 L1098.9,1519.5 L1100.3,1521.9 L1101.7,1524.4 L1103.2,1527.7 L1104.8,1529.7 L1106.5,1531.7 L1108.2,1535.0 L1110.0,1537.1 L1111.7,1539.9 L1113.5,1541.6 L1115.3,1544.0 L1117.0,1546.7 L1118.7,1549.3 L1120.4,1552.0 L1122.1,1554.9 L1123.8,1557.6 L1125.5,1559.8 L1127.1,1563.2 L1128.7,1566.2 L1130.4,1568.7 L1132.0,1571.4 L1133.7,1573.4 L1135.4,1576.3 L1137.2,1579.2 L1139.1,1581.4 L1141.3,1584.1 L1143.6,1586.5 L1146.0,1589.6 L1148.5,1592.6 L1151.0,1594.5 L1153.5,1596.5 L1155.9,1598.4 L1158.2,1600.9 L1160.5,1602.8 L1162.5,1604.2 L1166.1,1606.5 L1169.2,1607.6 L1172.0,1608.3 L1174.9,1609.5 L1178.2,1610.5 L1180.8,1611.9 L1183.5,1613.3 L1186.3,1615.3 L1189.1,1616.5 L1192.0,1617.1 L1194.9,1619.0 L1197.7,1620.6 L1200.4,1622.2 L1203.0,1623.5 L1205.5,1625.2 L1208.2,1626.6 L1210.9,1627.9 L1213.9,1629.9 L1217.2,1631.0 L1219.7,1632.3 L1222.4,1633.8 L1225.3,1634.6 L1228.3,1635.1 L1231.3,1635.8 L1234.4,1636.3 L1237.5,1637.5 L1240.6,1638.5 L1243.6,1639.3 L1246.6,1640.4 L1249.5,1640.9 L1252.3,1641.9 L1255.1,1642.6 L1257.9,1643.1 L1260.6,1643.6 L1263.5,1644.0 L1266.4,1644.7 L1269.4,1645.5 L1272.6,1646.2 L1275.9,1647.7 L1278.6,1647.9 L1281.5,1648.3 L1284.5,1648.7 L1287.5,1649.0 L1290.7,1649.3 L1293.9,1649.7 L1297.0,1649.7 L1300.2,1650.1 L1303.4,1651.2 L1306.4,1651.1 L1309.4,1651.8 L1312.3,1652.3 L1315.0,1652.8 L1318.7,1654.1 L1322.2,1654.8 L1325.6,1655.4 L1328.9,1655.7 L1332.1,1656.2 L1335.2,1656.6 L1338.2,1657.1 L1341.3,1657.7 L1344.3,1657.9 L1347.7,1658.8 L1351.1,1660.4 L1354.4,1660.6 L1357.7,1661.8 L1360.9,1662.2 L1364.0,1663.2 L1367.1,1664.3 L1370.0,1664.3 L1373.4,1664.2 L1376.1,1663.8 L1378.7,1663.5 L1381.6,1663.2 L1385.4,1662.2 L1390.5,1663.2 L1392.7,1663.4 L1395.1,1664.1 L1397.7,1663.8 L1400.5,1664.2 L1403.3,1664.5 L1406.3,1664.8 L1409.4,1665.4 L1412.6,1665.7 L1415.9,1666.3 L1419.1,1667.1 L1422.5,1668.0 L1425.8,1668.5 L1429.1,1668.9 L1432.4,1668.9 L1435.6,1669.1 L1438.7,1669.8 L1441.8,1670.3 L1444.8,1670.5 L1447.8,1670.9 L1450.7,1671.4 L1453.7,1671.4 L1456.6,1672.0 L1459.5,1672.1 L1462.4,1671.8 L1465.3,1672.1 L1468.3,1672.3 L1471.2,1672.5 L1474.2,1673.0 L1477.3,1673.5 L1480.3,1673.8 L1483.4,1673.9 L1486.6,1674.0 L1489.8,1674.7 L1493.1,1674.3 L1495.9,1674.6 L1498.8,1674.9 L1501.8,1675.6 L1504.8,1675.5 L1507.8,1676.0 L1510.8,1676.1 L1513.9,1676.4 L1517.0,1677.0 L1520.1,1677.2 L1523.3,1677.8 L1526.4,1678.4 L1529.6,1678.8 L1532.7,1679.2 L1535.9,1680.0 L1539.1,1680.4 L1542.2,1680.4 L1545.4,1680.5 L1548.5,1681.0 L1551.6,1681.1 L1554.7,1681.1 L1557.8,1681.9 L1560.9,1682.3 L1564.1,1682.8 L1567.3,1682.7 L1570.6,1683.4 L1573.8,1683.5 L1577.0,1683.8 L1580.3,1683.7 L1583.5,1683.4 L1586.7,1684.1 L1589.9,1684.2 L1593.1,1684.2 L1596.2,1684.4 L1599.3,1684.4 L1602.3,1685.2 L1605.2,1685.5 L1608.1,1685.4 L1610.9,1685.8 L1613.6,1686.0 L1616.2,1686.1 L1619.8,1686.2 L1623.0,1686.7 L1625.7,1686.7 L1628.1,1686.6 L1630.4,1686.5 L1632.7,1686.6 L1635.0,1686.4 L1637.5,1686.3 L1640.3,1686.8 L1643.6,1686.5 L1647.4,1686.8 L1651.9,1686.8 L1657.2,1687.3 L1659.4,1687.4 L1661.8,1687.1 L1664.4,1686.9 L1667.1,1687.1 L1670.0,1687.0 L1673.1,1687.3 L1676.2,1687.3 L1679.5,1687.0 L1682.8,1687.6 L1686.3,1687.5 L1689.8,1687.2 L1693.4,1687.3 L1697.0,1687.1 L1700.7,1687.1 L1704.4,1686.7 L1708.1,1686.8 L1711.8,1686.8 L1715.5,1687.1 L1719.2,1687.0 L1722.8,1687.2 L1726.4,1687.1 L1730.0,1686.9 L1733.4,1687.2 L1736.8,1687.7 L1740.1,1687.6 L1743.3,1687.2 L1746.3,1687.0 L1749.3,1686.9 L1752.1,1687.0 L1754.7,1687.3 L1757.1,1687.3 L1759.4,1687.2 L1761.5,1687.2 L1763.3,1687.1 L1765.0,1687.1" stroke="#000" stroke-width="6"/>
</g>
<g stroke="#0638da" stroke-width="6.5" fill="none">
<line x1="731.0" y1="746.8" x2="731.0" y2="835.2"/>
<line x1="756.2" y1="1018.3" x2="756.2" y2="1106.7"/>
<line x1="808.8" y1="1317.9" x2="808.8" y2="1405.8"/>
<line x1="825.0" y1="1480.6" x2="825.0" y2="1568.5"/>
<line x1="1437" y1="792.9" x2="1437" y2="1523" stroke-dasharray="42 44" stroke-width="6"/>
</g>
<g font-family="Liberation Serif, serif" font-weight="bold" font-size="58" fill="#0638da">
<text x="747.8" y="804.3">0.76</text>
<text x="775.0" y="1071.6">0.58</text>
<text x="825.5" y="1384.0">0.42</text>
<text x="850.5" y="1522.5">0.30</text>
<text x="1467.4" y="845.5">1.04</text>
</g>
<g fill="none" stroke="#000" stroke-width="5">
<rect x="243" y="47" width="752" height="1690.5"/>
<rect x="1025.5" y="46.7" width="751.5" height="1685.3"/>
<line x1="255.8" y1="1702.0" x2="255.8" y2="1737"/>
<line x1="1037.6" y1="1696.5" x2="1037.6" y2="1731"/>
<line x1="359.7" y1="1719.0" x2="359.7" y2="1737"/>
<line x1="1141.6" y1="1713.0" x2="1141.6" y2="1731"/>
<line x1="463.6" y1="1702.0" x2="463.6" y2="1737"/>
<line x1="1245.6" y1="1696.5" x2="1245.6" y2="1731"/>
<line x1="567.5" y1="1719.0" x2="567.5" y2="1737"/>
<line x1="1349.6" y1="1713.0" x2="1349.6" y2="1731"/>
<line x1="671.4" y1="1702.0" x2="671.4" y2="1737"/>
<line x1="1453.6" y1="1696.5" x2="1453.6" y2="1731"/>
<line x1="775.3" y1="1719.0" x2="775.3" y2="1737"/>
<line x1="1557.6" y1="1713.0" x2="1557.6" y2="1731"/>
<line x1="879.2" y1="1702.0" x2="879.2" y2="1737"/>
<line x1="1661.6" y1="1696.5" x2="1661.6" y2="1731"/>
<line x1="983.1" y1="1719.0" x2="983.1" y2="1737"/>
<line x1="1765.6" y1="1713.0" x2="1765.6" y2="1731"/>
<line x1="244" y1="263.0" x2="277.7" y2="263.0"/>
<line x1="244" y1="506.8" x2="277.7" y2="506.8"/>
<line x1="244" y1="750.7" x2="277.7" y2="750.7"/>
<line x1="244" y1="994.5" x2="277.7" y2="994.5"/>
<line x1="244" y1="1238.3" x2="277.7" y2="1238.3"/>
<line x1="244" y1="1482.2" x2="277.7" y2="1482.2"/>
<line x1="244" y1="1726.0" x2="277.7" y2="1726.0"/>
<line x1="1026" y1="292.1" x2="1061" y2="292.1"/>
<line x1="1026" y1="609.5" x2="1061" y2="609.5"/>
<line x1="1026" y1="926.9" x2="1061" y2="926.9"/>
<line x1="1026" y1="1244.3" x2="1061" y2="1244.3"/>
<line x1="1026" y1="1561.7" x2="1061" y2="1561.7"/>
</g>
<g font-family="Liberation Serif, serif" font-weight="bold" font-size="57.5" fill="#000">
<text x="681.1" y="1662.5" clip-path="url(#ca)">G on F-SAM</text>
<text x="1377.5" y="1633.2" clip-path="url(#cb)">G on NH2-SAM</text>
</g>
<g font-family="Liberation Serif, serif" font-weight="bold" font-size="68" fill="#000" text-anchor="middle">
<text x="255.8" y="1819">3.0</text>
<text x="1037.6" y="1814.5">3.0</text>
<text x="463.6" y="1819">2.0</text>
<text x="1245.6" y="1814.5">2.0</text>
<text x="671.4" y="1819">1.0</text>
<text x="1453.6" y="1814.5">1.0</text>
<text x="879.2" y="1819">0.0</text>
<text x="1661.6" y="1814.5">0.0</text>
<text x="1017.5" y="1941" font-size="77">Binding Energy (eV)</text>
</g>
<g font-family="Liberation Serif, serif" font-weight="bold" font-size="67" fill="#000">
<text x="1805.7" y="923.7">+ 5.0 nm ZnPc</text>
<text x="1808.6" y="1115.3">+ 2.0 nm ZnPc</text>
<text x="1808.6" y="1307.3">+ 1.0 nm ZnPc</text>
<text x="1805.7" y="1475.6">+ 0.5 nm ZnPc</text>
</g>
<g font-family="Liberation Serif, serif" fill="#000">
<text x="803" y="190" font-size="125">(a)</text>
<text x="1586" y="176" font-size="125">(b)</text>
<text transform="translate(118,878.8) rotate(-90)" text-anchor="middle" font-size="96">Intensity (a.u.)</text>
</g>
</svg>
</body></html>
